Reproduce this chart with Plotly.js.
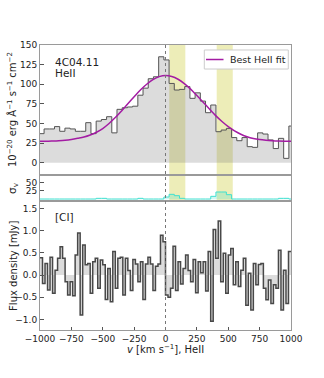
<!DOCTYPE html>
<html>
<head>
<meta charset="utf-8">
<script src="https://cdn.plot.ly/plotly-3.0.1.min.js"></script>
<style>
  body { margin: 0; background: #fff; }
  #plot { width: 324px; height: 378px; }
</style>
</head>
<body>
<div id="plot"></div>
<script>
// HeII spectrum, bins of ~41.5 km/s
const heiiBinStart = -1009;
const heiiBinWidth = 41.5;
const heiiFlux = [37, 43, 43, 46, 40, 44, 43, 40, 40, 51,
                  37, 53, 55, 58.6, 38, 68, 70, 71, 72, 86,
                  95, 107, 109.5, 135, 131, 101, 92.6, 93.4, 97, 82,
                  89, 78.5, 63.7, 73.5, 39.5, 41.6, 43.7, 32, 28, 32,
                  20.4, 19.5, 38, 36.5, 29, 18, 31, 5.5, 46.7];
const heiiSigma = [1, 1, 1, 1, 1, 1, 1, 1, 1, 1,
                   1, 3, 3, 1, 1, 1, 1, 1, 1, 3,
                   1, 1, 1, 1, 7, 15, 11, 3, 1, 1,
                   1, 1, 1, 9, 22, 22, 14, 1, 1, 1,
                   1, 1, 1, 1, 1, 1, 3, 3, 1];

// best fit
const fitVel = [-1000, -950, -900, -850, -800, -750, -700, -650, -600, -550,
                -500, -450, -400, -350, -300, -250, -200, -150, -100, -50,
                0, 50, 100, 150, 200, 250, 300, 350, 400, 450,
                500, 550, 600, 650, 700, 750, 800, 850, 900, 950, 1000];
const fitFlux = [27.2, 27.3, 27.6, 28.0, 28.6, 29.6, 31.0, 32.6, 35.2, 38.8,
                 43.5, 50, 57.5, 66, 75, 84, 92.7, 100, 106, 109.7,
                 111, 109.8, 106.3, 100.8, 93.8, 85.5, 77, 68.5, 60, 52.5,
                 46, 40.5, 36.3, 33, 30.8, 29.4, 28.5, 27.9, 27.5, 27.3, 27.2];

// [CI] spectrum, 20 km/s bins
const ciBinStart = -1000;
const ciBinWidth = 20;
const ciFlux = [0.39, -0.19, 0.26, -0.34, 0.4, -0.41, 0.11, 0.38, 0.64, 0.38,
                -0.15, -0.45, -0.15, -0.47, 0.45, 0.95, -0.9, 0.68, 0.23, 0.26,
                -0.41, 0.3, 0.38, -0.3, 0.34, 0.23, -0.55, 0.15, -0.6, 0.53,
                -0.3, 0.38, 0.4, -0.45, 0.38, 0.1, -0.35, 0.35, 0.25, -0.15,
                0.3, -0.55, 0.25, 0.4, 0.25, -0.35, 0.2, 0.25, 0.9, 0.75,
                -0.45, -0.5, -0.3, 0.65, -0.35, 0.3, -0.2, 0.15, 0.45, 0.1,
                -0.15, 0.35, -0.4, 0.3, 0.05, 0.3, -0.36, 0.53, -1.04, 1.03,
                0.38, 1.22, -0.15, 0.49, -0.41, 0.45, 0.6, -0.22, 0.3, -0.26,
                0.11, 0.38, -0.68, 0.04, -0.79, 0.26, -0.22, 0.24, 0.26, -0.3,
                -0.56, -0.11, -0.64, -0.22, -0.3, 0.56, -0.79, 0.11, -0.64, 0.53];

// masked velocity ranges (km/s)
const bandStart = [30, 408];
const bandEnd = [158, 536];

const velTicks = [-1000, -750, -500, -250, 0, 250, 500, 750, 1000];

function stepData(start, width, vals) {
    // left edges + closing edge so 'hv' draws the last bin
    const xs = vals.map((_, i) => start + width * i);
    xs.push(start + width * vals.length);
    const ys = vals.slice();
    ys.push(vals[vals.length - 1]);
    return [xs, ys];
}

const [heX, heY] = stepData(heiiBinStart, heiiBinWidth, heiiFlux);
const [sgX, sgY] = stepData(heiiBinStart, heiiBinWidth, heiiSigma);
const [ciX, ciY] = stepData(ciBinStart, ciBinWidth, ciFlux);

const font = 'DejaVu Sans, sans-serif';
const frame = '#9a9a9a';
const fitColor = '#a31ca3';

const data = [
    {
        x: heX, y: heY, xaxis: 'x2', yaxis: 'y2',
        type: 'scatter', mode: 'lines',
        line: {shape: 'hv', color: '#555', width: 1},
        fill: 'tozeroy', fillcolor: 'rgba(120,120,120,0.26)',
        showlegend: false
    },
    {
        x: fitVel, y: fitFlux, xaxis: 'x2', yaxis: 'y2',
        type: 'scatter', mode: 'lines',
        line: {shape: 'spline', color: fitColor, width: 1.5},
        name: 'Best HeII fit', showlegend: false
    },
    {
        x: sgX, y: sgY, xaxis: 'x3', yaxis: 'y3',
        type: 'scatter', mode: 'lines',
        line: {shape: 'hv', color: 'turquoise', width: 1},
        fill: 'tozeroy', fillcolor: 'rgba(64,224,208,0.25)',
        showlegend: false
    },
    {
        x: ciX, y: ciY, xaxis: 'x', yaxis: 'y',
        type: 'scatter', mode: 'lines',
        line: {shape: 'hv', color: '#484848', width: 1.5},
        fill: 'tozeroy', fillcolor: 'rgba(120,120,120,0.26)',
        showlegend: false
    }
];

const shapes = [];
for (let i = 0; i < bandStart.length; i++) {
    ['2', '3'].forEach(n => {
        shapes.push({
            type: 'rect', xref: 'x' + n, yref: 'y' + n + ' domain',
            x0: bandStart[i], x1: bandEnd[i], y0: 0, y1: 1,
            fillcolor: 'rgba(200,200,40,0.33)', line: {width: 0}, layer: 'below'
        });
    });
}
shapes.push({
    type: 'line', xref: 'x', yref: 'paper', x0: 0, x1: 0, y0: 0, y1: 1,
    line: {color: '#777', width: 1, dash: 'dot'}, layer: 'above'
});
// legend box (drawn by hand to get matplotlib's compact look)
shapes.push({
    type: 'rect', xref: 'paper', yref: 'paper',
    x0: 0.6546, x1: 0.9892, y0: 0.9157, y1: 0.9825,
    fillcolor: '#fff', line: {color: '#ccc', width: 1}, layer: 'above'
});
shapes.push({
    type: 'line', xref: 'paper', yref: 'paper',
    x0: 0.6614, x1: 0.7311, y0: 0.9491, y1: 0.9491,
    line: {color: fitColor, width: 1.5}, layer: 'above'
});

const axisBase = {
    showline: true, mirror: true, linecolor: frame, linewidth: 1,
    showgrid: false, zeroline: false,
    ticks: 'inside', ticklen: 3.5, tickcolor: '#555',
    tickfont: {family: font, size: 9, color: '#222'}
};

const layout = {
    width: 324, height: 378,
    margin: {l: 40, r: 33, t: 45, b: 48},
    paper_bgcolor: '#fff', plot_bgcolor: '#fff',
    font: {family: font, color: '#222', size: 10},
    showlegend: false,
    xaxis: Object.assign({}, axisBase, {
        anchor: 'y', range: [-1000, 1000], tickvals: velTicks
    }),
    xaxis2: Object.assign({}, axisBase, {
        anchor: 'y2', matches: 'x', range: [-1000, 1000],
        showticklabels: false, ticks: ''
    }),
    xaxis3: Object.assign({}, axisBase, {
        anchor: 'y3', matches: 'x', range: [-1000, 1000],
        showticklabels: false, ticks: ''
    }),
    yaxis: Object.assign({}, axisBase, {
        domain: [0, 0.4526], range: [-1.24, 1.67],
        tickvals: [-1, -0.5, 0, 0.5, 1, 1.5], tickformat: '.1f'
    }),
    yaxis2: Object.assign({}, axisBase, {
        domain: [0.5439, 1], range: [-15.7, 150], dtick: 25, tick0: 0
    }),
    yaxis3: Object.assign({}, axisBase, {
        domain: [0.4526, 0.5439], range: [-5, 73], tickvals: [25, 50]
    }),
    shapes: shapes,
    annotations: [
        {text: 'Best HeII fit', xref: 'paper', yref: 'paper', x: 0.7490, y: 0.9491,
         xanchor: 'left', yanchor: 'middle', showarrow: false,
         font: {family: font, size: 9.5}},
        {text: '4C04.11', xref: 'paper', yref: 'paper', x: 0.052, y: 0.9414,
         xanchor: 'left', yanchor: 'middle', showarrow: false,
         font: {family: font, size: 10.5}},
        {text: 'HeII', xref: 'paper', yref: 'paper', x: 0.052, y: 0.9007,
         xanchor: 'left', yanchor: 'middle', showarrow: false,
         font: {family: font, size: 10.5}},
        {text: '[CI]', xref: 'paper', yref: 'paper', x: 0.052, y: 0.3975,
         xanchor: 'left', yanchor: 'middle', showarrow: false,
         font: {family: font, size: 10.5}},
        {text: '10<sup>−20</sup> erg Å<sup>−1</sup> s<sup>−1</sup> cm<sup>−2</sup>',
         xref: 'paper', yref: 'paper', x: -0.112, y: 0.775, textangle: -90,
         xanchor: 'center', yanchor: 'middle', showarrow: false,
         font: {family: font, size: 10}},
        {text: 'σ<sub>v</sub>', xref: 'paper', yref: 'paper', x: -0.108, y: 0.498,
         textangle: -90, xanchor: 'center', yanchor: 'middle', showarrow: false,
         font: {family: font, size: 10.5}},
        {text: 'Flux density [mJy]', xref: 'paper', yref: 'paper', x: -0.104, y: 0.2246,
         textangle: -90, xanchor: 'center', yanchor: 'middle', showarrow: false,
         font: {family: font, size: 10}},
        {text: '<i>v</i> [km s<sup>−1</sup>], HeII', xref: 'paper', yref: 'paper',
         x: 0.5, y: -0.068, xanchor: 'center', yanchor: 'middle', showarrow: false,
         font: {family: font, size: 10}}
    ]
};

Plotly.newPlot('plot', data, layout, {staticPlot: true});
</script>
</body>
</html>
